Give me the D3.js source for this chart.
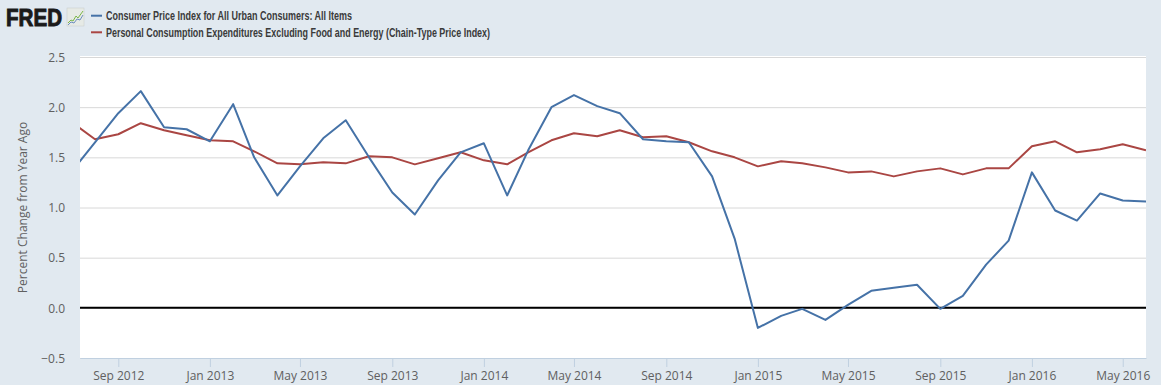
<!DOCTYPE html>
<html>
<head>
<meta charset="utf-8">
<script src="https://cdn.jsdelivr.net/npm/d3@7"></script>
<style>
  html, body { margin: 0; padding: 0; background: #e1e9f0; }
  svg { display: block; }
  .tick text { font-family: "Open Sans", sans-serif; font-size: 12px; fill: #606060; }
</style>
</head>
<body>
<svg id="chart" width="1161" height="385"></svg>
<script>
// monthly observations, Jul 2012 .. Jun 2016
const firstMonth = new Date(2012, 6, 1);
const lastMonth = new Date(2016, 5, 1);

const cpiValues = [
  1.36, 1.65, 1.94, 2.16, 1.80, 1.78,
  1.66, 2.03, 1.50, 1.12, 1.41, 1.69, 1.87, 1.50, 1.15, 0.93, 1.27, 1.55,
  1.64, 1.12, 1.57, 2.00, 2.12, 2.01, 1.94, 1.68, 1.66, 1.65, 1.31, 0.69,
  -0.20, -0.08, -0.01, -0.12, 0.03, 0.17, 0.20, 0.23, -0.01, 0.12, 0.43, 0.67,
  1.35, 0.97, 0.87, 1.14, 1.07, 1.06
];
const pceValues = [
  1.85, 1.68, 1.73, 1.84, 1.77, 1.72,
  1.67, 1.66, 1.56, 1.44, 1.43, 1.45, 1.44, 1.51, 1.50, 1.43, 1.49, 1.55,
  1.47, 1.43, 1.55, 1.67, 1.74, 1.71, 1.77, 1.70, 1.71, 1.65, 1.56, 1.50,
  1.41, 1.46, 1.44, 1.40, 1.35, 1.36, 1.31, 1.36, 1.39, 1.33, 1.39, 1.39,
  1.61, 1.66, 1.55, 1.58, 1.63, 1.57
];
const seriesNames = [
  "Consumer Price Index for All Urban Consumers: All Items",
  "Personal Consumption Expenditures Excluding Food and Energy (Chain-Type Price Index)"
];
const seriesColors = ["#4572a7", "#aa4643"];
const yTicks = [-0.5, 0.0, 0.5, 1.0, 1.5, 2.0, 2.5];

const months = d3.timeMonth.range(firstMonth, d3.timeMonth.offset(lastMonth, 1));
const series = [cpiValues, pceValues].map((vals, i) => ({
  name: seriesNames[i],
  color: seriesColors[i],
  points: vals.map((v, j) => ({ date: months[j], value: v }))
}));

const plot = { left: 80, right: 1146, top: 57, bottom: 358 };
const svg = d3.select("#chart");

const x = d3.scaleTime()
  .domain([new Date(2012, 6, 12), lastMonth])
  .range([plot.left, plot.right]);
const y = d3.scaleLinear()
  .domain([-0.5, 2.5])
  .range([plot.bottom, plot.top]);

// plot background
svg.append("rect")
  .attr("x", plot.left).attr("y", plot.top - 1)
  .attr("width", plot.right - plot.left).attr("height", plot.bottom - plot.top + 1)
  .attr("fill", "#fff");

// y grid + labels
const yAxis = svg.append("g")
  .attr("transform", `translate(${plot.left},0)`)
  .call(d3.axisLeft(y).tickValues(yTicks).tickFormat(d3.format(".1f"))
    .tickSize(-(plot.right - plot.left)).tickPadding(15));
yAxis.select(".domain").remove();
yAxis.selectAll(".tick line").attr("stroke", "#d8d8d8").attr("stroke-width", 1);
yAxis.selectAll(".tick text").attr("dy", "0.35em");

svg.append("text")
  .attr("transform", `translate(22,${(plot.top + plot.bottom) / 2}) rotate(-90)`)
  .attr("text-anchor", "middle")
  .attr("dominant-baseline", "central")
  .style("font-family", "'Open Sans', sans-serif")
  .style("font-size", "12px")
  .style("fill", "#606060")
  .text("Percent Change from Year Ago");

// x axis
const xAxis = svg.append("g")
  .attr("transform", `translate(0,${plot.bottom})`)
  .call(d3.axisBottom(x).ticks(d3.timeMonth.every(4)).tickFormat(d3.timeFormat("%b %Y"))
    .tickSizeOuter(0).tickSizeInner(9).tickPadding(4));
xAxis.select(".domain").attr("stroke", "#c0d0e0");
xAxis.selectAll(".tick line").attr("stroke", "#c0d0e0");

// zero line
svg.append("line")
  .attr("x1", plot.left).attr("x2", plot.right)
  .attr("y1", y(0)).attr("y2", y(0))
  .attr("stroke", "#000").attr("stroke-width", 2);

svg.append("clipPath").attr("id", "clip")
  .append("rect")
  .attr("x", plot.left).attr("y", plot.top - 5)
  .attr("width", plot.right - plot.left).attr("height", plot.bottom - plot.top + 10);

const line = d3.line().x(d => x(d.date)).y(d => y(d.value));

svg.append("g").attr("clip-path", "url(#clip)")
  .selectAll("path")
  .data(series.slice().reverse())
  .join("path")
  .attr("d", d => line(d.points))
  .attr("fill", "none")
  .attr("stroke", d => d.color)
  .attr("stroke-width", 2)
  .attr("stroke-linejoin", "round");

// logo
const logo = svg.append("g");
logo.append("text")
  .attr("x", 6).attr("y", 26)
  .attr("textLength", 56).attr("lengthAdjust", "spacingAndGlyphs")
  .style("font-family", "'Liberation Sans', Arial, sans-serif")
  .style("font-weight", "bold")
  .style("font-size", "23px")
  .style("fill", "#1a1a1a")
  .style("stroke", "#1a1a1a")
  .style("stroke-width", "0.9px")
  .text("FRED");
logo.append("rect")
  .attr("x", 67).attr("y", 8).attr("width", 17).attr("height", 18)
  .attr("fill", "#e6eae6").attr("stroke", "#c8ccc8").attr("stroke-width", 0.5);
logo.append("path")
  .attr("d", "M68,23 L71,20 L73,21 L76,16 L78,18 L83,11")
  .attr("fill", "none").attr("stroke", "#7ab648").attr("stroke-width", 1);
logo.append("path")
  .attr("d", "M68,25 L71,22 L74,23 L77,19 L80,20 L83,15")
  .attr("fill", "none").attr("stroke", "#6d8fbf").attr("stroke-width", 1);

// legend
const legendWidths = [246, 384];
const legend = svg.append("g")
  .selectAll("g")
  .data(series)
  .join("g")
  .attr("transform", (d, i) => `translate(0,${15.7 + i * 16.6})`);
legend.append("line")
  .attr("x1", 91).attr("x2", 102)
  .attr("stroke", d => d.color).attr("stroke-width", 2);
legend.append("text")
  .attr("x", 106).attr("y", 4.5)
  .attr("textLength", (d, i) => legendWidths[i])
  .attr("lengthAdjust", "spacingAndGlyphs")
  .style("font-family", "'Liberation Sans Narrow', 'Liberation Sans', sans-serif")
  .style("font-size", "13px")
  .style("font-weight", "bold")
  .style("fill", "#3a3a3a")
  .text(d => d.name);
</script>
</body>
</html>
